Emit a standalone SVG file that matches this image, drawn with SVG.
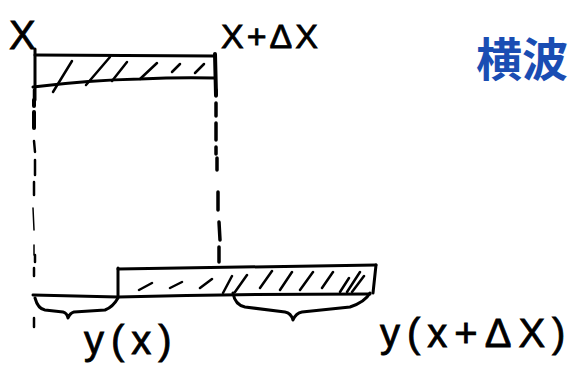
<svg xmlns="http://www.w3.org/2000/svg" width="576" height="371" viewBox="0 0 576 371">
<style>
.s{fill:none;stroke:#000;stroke-width:3;stroke-linecap:round;stroke-linejoin:round}
.h{fill:none;stroke:#000;stroke-width:2.5;stroke-linecap:round}
.d{fill:none;stroke:#000;stroke-linecap:round}
.t{font-family:"Liberation Sans","DejaVu Sans",sans-serif;fill:#000;stroke:#000;stroke-width:0.8}
.cn{font-family:"Noto Sans CJK SC","Noto Sans CJK JP",sans-serif;fill:#1a4db3;font-weight:bold}
</style>
<rect width="576" height="371" fill="#fff"/>
<g id="top-bar">
<path class="s" d="M35 55 L215 56"/>
<path class="s" d="M35 49 L35 100"/>
<path class="s" d="M33 87 Q90 80 140 79 Q180 77 215 78"/>
<path class="s" d="M215 54 L216 95" style="stroke-width:4"/>
<path class="h" d="M53 92 L72 61 M86 85 L110 57 M112 81 L127 62 M140 79 L157 63 M172 72 L180 64 M195 73 L204 64"/>
</g>
<g id="dashes">
<path class="d" stroke-width="2.5" d="M34 90 L34 100 M34 141 L35 152 M35 160 L35 175 M34 182 L34 195 M35 255 L35 262 M34 268 L34 276 M34 318 L34 327"/>
<path class="d" stroke-width="4" d="M34 112 L34 128 M34 100 L34 106"/>
<path class="d" stroke-width="1.5" d="M33 208 L34 230 M34 245 L34 255"/>
<path class="d" stroke-width="3.5" d="M216 90 L216 96 M216 103 L216 116 M216 123 L216 140 M216 147 L216 154 M217 158 L217 170 M218 192 L218 210 M219 222 L220 240 M219 247 L219 262"/>
</g>
<g id="bottom-bar">
<path class="s" d="M118 269 Q250 267 376 265"/>
<path class="s" d="M33 295 L118 297 Q240 294 370 294"/>
<path class="s" d="M118 268 L118 297"/>
<path class="s" d="M376 265 L373 293"/>
<path class="h" d="M139 290 L152 283 M170 288 L182 282 M200 288 L212 279 M223 293 L232 276 M235 292 L247 275 M260 288 L272 271 M280 290 L292 272 M300 290 L313 272 M322 288 L333 272 M340 292 L349 278 M347 292 L360 272 M352 292 L364 276"/>
</g>
<g id="braces">
<path class="s" d="M35 298 Q38 309 45 310 L63 312 Q67 313 68 318 Q70 313 74 312 L105 310 Q113 307 118 298"/>
<path class="s" d="M233 293 Q235 305 245 307 L285 312 Q291 313 293 320 Q296 313 302 312 L350 307 Q365 302 370 293"/>
</g>
<g id="labels">
<text class="t" x="9" y="49" font-size="40">X</text>
<text class="t" x="221" y="48" font-size="34" letter-spacing="3">X+ΔX</text>
<text class="t" x="84" y="354" font-size="40" letter-spacing="7">y(x)</text>
<text class="t" x="380" y="347" font-size="40" letter-spacing="7">y(x+ΔX)</text>
<text class="cn" x="476" y="76" font-size="46">横波</text>
</g>
</svg>
